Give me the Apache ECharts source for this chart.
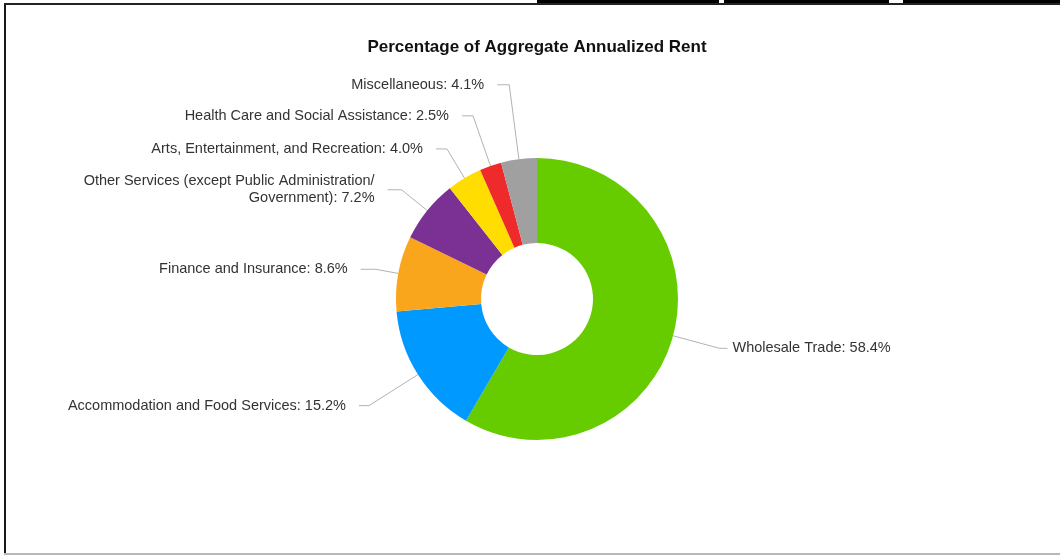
<!DOCTYPE html>
<html>
<head>
<meta charset="utf-8">
<script src="https://cdn.jsdelivr.net/npm/echarts@6/dist/echarts.min.js"></script>
<style>
  html, body { margin: 0; padding: 0; background: #fff; }
  #chart { width: 1060px; height: 556px; }
</style>
</head>
<body>
<div id="chart"></div>
<script>
// ---- data ----
const categories = [
  'Wholesale Trade',
  'Accommodation and Food Services',
  'Finance and Insurance',
  'Other Services (except Public Administration/\nGovernment)',
  'Arts, Entertainment, and Recreation',
  'Health Care and Social Assistance',
  'Miscellaneous'
];
const percentages = [58.4, 15.2, 8.6, 7.2, 4.0, 2.5, 4.1];
const sliceColors = ['#66cc00', '#0099ff', '#f9a61c', '#7b3094', '#ffdd00', '#ee2a2a', '#a0a0a0'];

// ---- label layout (radial leader-line lengths, px) ----
const leaderLengths = [48, 58, 23, 33, 34, 53, 75];
const leaderLengths2 = [8, 10, 15, 14, 11, 11, 12];
const labelGaps = [5, 13, 13, 13, 13, 13, 13];

const seriesData = categories.map((name, i) => ({
  name: name,
  value: percentages[i],
  itemStyle: { color: sliceColors[i] },
  labelLine: { length: leaderLengths[i], length2: leaderLengths2[i] },
  label: { distanceToLabelLine: labelGaps[i] }
}));

const chart = echarts.init(document.getElementById('chart'), null, { renderer: 'canvas' });
chart.setOption({
  animation: false,
  backgroundColor: '#ffffff',
  title: {
    text: 'Percentage of Aggregate Annualized Rent',
    left: 532,
    top: 34,
    textAlign: 'center',
    textStyle: {
      fontFamily: 'Liberation Sans, Arial, sans-serif',
      fontSize: 17,
      fontWeight: 'bold',
      color: '#111'
    }
  },
  graphic: [
    { type: 'rect', shape: { x: 4, y: 3, width: 2, height: 551 }, style: { fill: '#1a1a1a' } },
    { type: 'rect', shape: { x: 4, y: 3, width: 1056, height: 2 }, style: { fill: '#222' } },
    { type: 'rect', shape: { x: 4, y: 553, width: 1056, height: 2 }, style: { fill: '#b8b8b8' } },
    { type: 'rect', shape: { x: 537, y: 0, width: 182, height: 3 }, style: { fill: '#000' } },
    { type: 'rect', shape: { x: 724, y: 0, width: 165, height: 3 }, style: { fill: '#000' } },
    { type: 'rect', shape: { x: 903, y: 0, width: 157, height: 3 }, style: { fill: '#000' } }
  ],
  series: [{
    type: 'pie',
    center: [537, 299],
    radius: [56, 141],
    startAngle: 90,
    clockwise: true,
    avoidLabelOverlap: false,
    data: seriesData,
    itemStyle: { borderWidth: 0 },
    label: {
      show: true,
      position: 'outside',
      alignTo: 'none',
      formatter: p => p.name + ': ' + p.value.toFixed(1) + '%',
      fontFamily: 'Liberation Sans, Arial, sans-serif',
      fontSize: 14.5,
      color: '#333',
      lineHeight: 17
    },
    labelLine: {
      show: true,
      smooth: false,
      lineStyle: { color: '#b3b3b3', width: 1 }
    },
    emphasis: { disabled: true }
  }]
});
</script>
</body>
</html>
